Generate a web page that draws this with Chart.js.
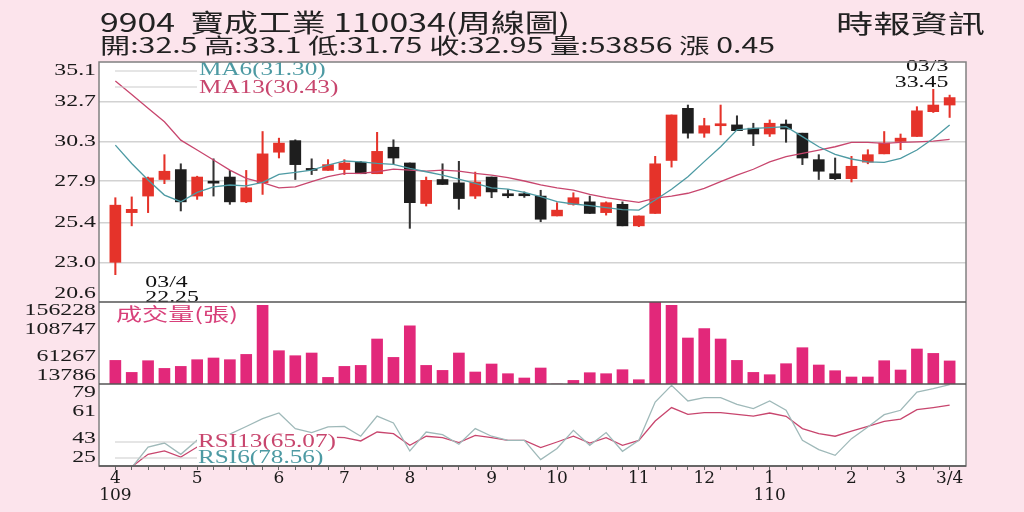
<!DOCTYPE html>
<html>
<head>
<meta charset="utf-8">
<title>9904 寶成工業 周線圖</title>
<script src="https://cdn.jsdelivr.net/npm/chart.js@4.4.1/dist/chart.umd.min.js"></script>
<style>
  html, body { margin: 0; padding: 0; background: #fce4ec; }
  #wrap { position: relative; width: 1024px; height: 512px; overflow: hidden; }
  canvas { position: absolute; left: 0; top: 0; }
  .hd { position: absolute; font-family: "Noto Sans CJK TC", sans-serif; color: #222; white-space: pre; transform-origin: 0 0; }
</style>
</head>
<body>
<div id="wrap">
  <canvas id="chart" width="1024" height="512"></canvas>
  <div id="title" class="hd" style="left:100px; top:9px; font-size:25px; line-height:25px;">9904  寶成工業 110034(周線圖)</div>
  <div id="quote" class="hd" style="left:100px; top:34px; font-size:21px; line-height:21px;">開:32.5 高:33.1 低:31.75 收:32.95 量:53856 漲 0.45</div>
  <div id="source" class="hd" style="left:836px; top:10px; font-size:25px; line-height:25px;">時報資訊</div>
</div>
<script>
// weekly candles, 109/03 week 4 .. 110/03 week 4
const xLabels = [['4', '109'], '', '', '', '', '5', '', '', '', '', '6', '', '', '', '7', '', '', '', '8', '', '', '', '',
  '9', '', '', '', '10', '', '', '', '', '11', '', '', '', '12', '', '', '', ['1', '110'], '', '', '', '',
  '2', '', '', '3', '', '', '3/4'];

const opens = [23.0, 26.0, 27.0, 28.0, 28.6, 27.0, 27.8, 28.15, 26.65, 27.8,
  29.65, 30.35, 28.56, 28.55, 28.6, 29.05, 28.35, 29.95, 29.0, 26.55,
  28.0, 27.8, 27.0, 28.15, 27.1, 27.08, 27.0, 25.8, 26.5, 26.65,
  26.0, 26.5, 25.2, 25.95, 29.15, 32.3, 30.8, 31.25, 31.3, 31.1,
  30.75, 31.35, 30.8, 29.2, 28.35, 28.05, 29.05, 29.55, 30.3, 30.6,
  32.1, 32.5];
const highs = [26.9, 26.95, 28.15, 29.5, 28.95, 28.2, 29.25, 28.55, 28.55, 30.9,
  30.5, 30.4, 29.25, 29.2, 29.2, 29.1, 30.85, 30.4, 29.0, 28.15,
  28.95, 29.1, 28.45, 28.15, 27.4, 27.25, 27.35, 26.6, 27.2, 27.0,
  26.65, 26.65, 25.8, 29.4, 31.9, 32.5, 31.7, 32.5, 31.85, 31.4,
  31.6, 31.6, 30.8, 29.5, 29.3, 29.4, 29.8, 30.9, 30.75, 32.4,
  33.45, 33.1];
const lows = [22.25, 25.2, 26.0, 27.75, 26.1, 26.8, 27.0, 26.5, 26.6, 27.1,
  29.3, 28.0, 28.3, 28.55, 28.3, 28.35, 28.35, 28.95, 25.05, 26.4,
  27.7, 26.2, 26.85, 26.9, 26.9, 26.92, 25.45, 25.8, 26.45, 25.95,
  25.85, 25.2, 25.15, 25.95, 28.75, 30.5, 30.55, 30.7, 30.95, 30.05,
  30.6, 30.25, 28.9, 28.0, 28.0, 27.85, 28.95, 29.55, 29.8, 30.6,
  32.05, 31.75];
const closes = [26.45, 26.2, 28.1, 28.5, 26.65, 28.15, 27.78, 26.65, 27.5, 29.55,
  30.2, 28.9, 28.55, 28.9, 29.0, 28.35, 29.7, 29.3, 26.6, 27.95,
  27.7, 26.85, 27.85, 27.25, 27.02, 27.02, 25.6, 26.15, 26.9, 25.95,
  26.6, 25.2, 25.8, 28.95, 31.9, 30.8, 31.25, 31.3, 30.95, 30.75,
  31.4, 31.05, 29.3, 28.5, 28.05, 28.8, 29.5, 30.2, 30.5, 32.15,
  32.5, 32.95];

const ma6 = [30.08, 28.97, 27.97, 27.06, 26.66, 27.22, 27.56, 27.67, 27.62, 27.83,
  28.31, 28.43, 28.57, 28.87, 29.12, 29.07, 28.97, 28.91, 28.67, 28.47,
  28.27, 28.03, 27.77, 27.5, 27.42, 27.22, 26.96, 26.66, 26.52, 26.42,
  26.3, 26.18, 26.15, 26.76, 27.41, 28.17, 29.08, 29.98, 31.0, 31.09,
  31.13, 31.19, 30.59, 29.98, 29.52, 29.24, 29.07, 29.03, 29.28, 29.78,
  30.48, 31.3];
const ma13 = [33.95, 33.14, 32.3, 31.49, 30.38, 29.78, 29.18, 28.57, 28.07, 27.81,
  27.5, 27.56, 27.87, 28.17, 28.37, 28.37, 28.47, 28.63, 28.57, 28.51,
  28.57, 28.51, 28.37, 28.27, 28.11, 27.91, 27.67, 27.5, 27.36, 27.1,
  26.9, 26.76, 26.62, 26.87, 27.0, 27.17, 27.47, 27.87, 28.27, 28.62,
  29.07, 29.38, 29.58, 29.78, 29.98, 30.24, 30.24, 30.18, 30.24, 30.28,
  30.32, 30.43];

const volumes = [54780, 33930, 54250, 40880, 44360, 56000, 58950, 56000, 65200, 150300,
  71630, 62940, 67630, 25250, 44360, 46090, 91950, 59990, 115050, 46090,
  37410, 67630, 34630, 48530, 31680, 24210, 41580, 13786, 20040, 33410,
  31680, 38620, 21250, 156228, 150300, 93690, 109840, 91950, 54780, 33930,
  29940, 49050, 76840, 46790, 36890, 25950, 25950, 54250, 38100, 74580,
  66940, 53856];

const rsi6 = [23.5, 24.0, 37.5, 40.1, 32.7, 42.0, 44.0, 46.0, 51.0, 56.2,
  59.9, 49.6, 47.0, 50.7, 51.1, 44.6, 57.9, 53.3, 34.9, 47.4,
  45.7, 39.3, 49.6, 44.6, 41.9, 41.9, 29.2, 36.5, 48.5, 38.6,
  47.0, 34.7, 41.9, 67.1, 78.1, 67.8, 70.0, 70.0, 65.6, 62.8,
  67.8, 61.7, 41.9, 35.8, 32.0, 43.0, 50.7, 58.8, 61.7, 73.7,
  76.0, 78.56];
const rsi13 = [24.0, 24.5, 32.7, 34.9, 30.9, 37.5, 39.5, 41.5, 43.0, 45.0,
  46.0, 45.0, 44.5, 44.1, 43.7, 41.5, 47.4, 46.3, 38.6, 44.6,
  43.7, 40.4, 45.2, 43.7, 41.9, 41.9, 37.1, 40.8, 44.6, 40.1,
  43.7, 38.6, 41.9, 54.6, 63.5, 59.0, 60.2, 60.2, 59.0, 57.9,
  59.9, 57.7, 49.6, 46.3, 44.6, 48.0, 51.1, 54.4, 55.9, 62.1,
  63.5, 65.07];

const priceTicks = [20.6, 23.0, 25.4, 27.9, 30.3, 32.7, 35.1];
const volTicks = [13786, 61267, 108747, 156228];
const rsiTicks = [25, 43, 61, 79];

const lowDate = '03/4';
const highDate = '03/3';

const RED = '#e5332a';
const BLACK = '#1e1e1e';
const TEAL = '#4d9aa3';
const ROSE = '#c8466e';
const SERIF = '"Liberation Serif", serif';

// one empty slot at each end, like the original
const pad = a => [null, ...a, null];
const labels = ['', ...xLabels, ''];

const bodies = opens.map((o, i) => [o, closes[i]]);
const wicks = lows.map((l, i) => [l, highs[i]]);
const candleColors = opens.map((o, i) => closes[i] >= o ? RED : BLACK);
const wickColors = opens.map((o, i) => closes[i] >= o ? RED : '#333');

function drawText(ctx, txt, x, y, font, color, align, sx) {
  ctx.save();
  ctx.font = font;
  ctx.fillStyle = color;
  ctx.textAlign = align;
  ctx.textBaseline = 'middle';
  ctx.translate(x, y);
  ctx.scale(sx, 1);
  ctx.fillText(txt, 0, 0);
  ctx.restore();
}

function textWidth(ctx, txt, font, sx) {
  ctx.save();
  ctx.font = font;
  const w = ctx.measureText(txt).width * sx;
  ctx.restore();
  return w;
}

function hline(ctx, x1, x2, y, color, w) {
  ctx.save();
  ctx.strokeStyle = color;
  ctx.lineWidth = w;
  ctx.beginPath();
  ctx.moveTo(x1, y);
  ctx.lineTo(x2, y);
  ctx.stroke();
  ctx.restore();
}

const panels = {
  id: 'panels',
  beforeDraw(chart) {
    const { ctx, chartArea: a } = chart;
    ctx.save();
    ctx.fillStyle = '#fff';
    ctx.fillRect(a.left, a.top, a.width, a.height);
    ctx.restore();
  },
  afterDraw(chart) {
    const { ctx, chartArea: a } = chart;
    const { x, yPrice, yVol, yRsi } = chart.scales;
    const legFont = '18px ' + SERIF;

    // legends
    hline(ctx, a.left + 16, a.left + 98, yPrice.top + 9, '#cccccc', 1.2);
    hline(ctx, a.left + 16, a.left + 98, yPrice.top + 25, '#cccccc', 1.2);
    drawText(ctx, 'MA6(' + ma6[ma6.length - 1].toFixed(2) + ')', a.left + 100, yPrice.top + 8, legFont, TEAL, 'left', 1.4);
    drawText(ctx, 'MA13(' + ma13[ma13.length - 1].toFixed(2) + ')', a.left + 100, yPrice.top + 26, legFont, ROSE, 'left', 1.4);

    drawText(ctx, '成交量(張)', a.left + 17, yVol.top + 12, '18px "Noto Sans CJK TC"', '#d8407a', 'left', 1.45);

    const r13 = 'RSI13(' + rsi13[rsi13.length - 1].toFixed(2) + ')';
    const r6 = 'RSI6(' + rsi6[rsi6.length - 1].toFixed(2) + ')';
    const rx = a.left + 99;
    ctx.save();
    ctx.fillStyle = '#fff';
    ctx.fillRect(rx - 1, yRsi.top + 50, textWidth(ctx, r13, legFont, 1.4) + 2, 32);
    ctx.restore();
    hline(ctx, a.left + 16, rx - 1, yRsi.top + 58, '#cccccc', 1.2);
    hline(ctx, a.left + 16, rx - 1, yRsi.top + 74, '#cccccc', 1.2);
    drawText(ctx, r13, rx, yRsi.top + 58, legFont, ROSE, 'left', 1.4);
    drawText(ctx, r6, rx, yRsi.top + 74, legFont, TEAL, 'left', 1.4);

    // low / high marks
    const lo = lows.indexOf(Math.min(...lows));
    const hi = highs.indexOf(Math.max(...highs));
    const lx = x.getPixelForValue(lo + 1) + 30;
    const ly = yPrice.getPixelForValue(lows[lo]);
    drawText(ctx, lowDate, lx, ly + 8, '17px ' + SERIF, '#111', 'left', 1.4);
    drawText(ctx, lows[lo].toFixed(2), lx, ly + 23, '17px ' + SERIF, '#111', 'left', 1.4);
    const hx = x.getPixelForValue(hi + 1) + 15;
    const hy = yPrice.getPixelForValue(highs[hi]);
    drawText(ctx, highDate, hx, hy - 23, '17px ' + SERIF, '#111', 'right', 1.4);
    drawText(ctx, highs[hi].toFixed(2), hx, hy - 7, '17px ' + SERIF, '#111', 'right', 1.4);

    // frame and panel dividers
    ctx.save();
    ctx.strokeStyle = '#808080';
    ctx.lineWidth = 1.5;
    ctx.strokeRect(a.left, a.top, a.width, a.height);
    ctx.restore();
    hline(ctx, a.left, a.right, yVol.top, '#555', 1.5);
    hline(ctx, a.left, a.right, yRsi.top, '#555', 1.5);
    hline(ctx, a.left, a.right, a.bottom, '#555', 1.5);

    // left tick labels, kept inside their panel
    [[yPrice, priceTicks, v => v.toFixed(1)], [yVol, volTicks, v => String(v)], [yRsi, rsiTicks, v => String(v)]]
      .forEach(([s, ticks, fmt]) => {
        ticks.forEach(v => {
          let py = s.getPixelForValue(v);
          py = Math.min(Math.max(py, s.top + 8.5), s.bottom - 8.5);
          drawText(ctx, fmt(v), a.left - 3, py, '17px ' + SERIF, '#1a1a1a', 'right', 1.4);
        });
      });
  }
};

const edge = c => c.tick && (c.tick.value === priceTicks[0] || c.tick.value === priceTicks[priceTicks.length - 1]);

new Chart(document.getElementById('chart'), {
  type: 'bar',
  data: {
    labels: labels,
    datasets: [
      { type: 'line', label: 'MA6', data: pad(ma6), yAxisID: 'yPrice', borderColor: TEAL, borderWidth: 1.3, pointRadius: 0, order: 0 },
      { type: 'line', label: 'MA13', data: pad(ma13), yAxisID: 'yPrice', borderColor: ROSE, borderWidth: 1.3, pointRadius: 0, order: 0 },
      { label: 'body', data: pad(bodies), yAxisID: 'yPrice', backgroundColor: pad(candleColors), barThickness: 11, minBarLength: 2, grouped: false, order: 1 },
      { label: 'wick', data: pad(wicks), yAxisID: 'yPrice', backgroundColor: pad(wickColors), barThickness: 1.4, grouped: false, order: 2 },
      { label: '成交量', data: pad(volumes), yAxisID: 'yVol', backgroundColor: '#e2287a', barThickness: 11, grouped: false, order: 3 },
      { type: 'line', label: 'RSI6', data: pad(rsi6), yAxisID: 'yRsi', borderColor: '#9fb9b9', borderWidth: 1.3, pointRadius: 0, order: 0 },
      { type: 'line', label: 'RSI13', data: pad(rsi13), yAxisID: 'yRsi', borderColor: ROSE, borderWidth: 1.3, pointRadius: 0, order: 0 }
    ]
  },
  options: {
    responsive: false,
    animation: false,
    layout: { padding: { left: 99, right: 58, top: 62, bottom: 0 } },
    plugins: { legend: { display: false }, tooltip: { enabled: false }, title: { display: false } },
    scales: {
      x: {
        type: 'category',
        offset: false,
        border: { display: false },
        grid: {
          offset: false, drawOnChartArea: false, drawTicks: true, tickLength: 4,
          color: c => (c.index === 0 || c.index === labels.length - 1) ? 'rgba(0,0,0,0)' : '#666'
        },
        ticks: {
          autoSkip: false, maxRotation: 0, minRotation: 0, padding: 1, color: '#1a1a1a',
          font: { family: '"DejaVu Serif", serif', size: 17, lineHeight: 0.95 }
        },
        afterFit: s => { s.height = 46; }
      },
      yPrice: {
        type: 'linear', position: 'left', stack: 'panels', stackWeight: 240, weight: 3,
        min: 20.6, max: 35.1,
        afterBuildTicks: s => { s.ticks = priceTicks.map(v => ({ value: v })); },
        grid: { color: c => edge(c) ? 'rgba(0,0,0,0)' : '#d2d2d2', lineWidth: 1.5, drawTicks: false },
        border: { display: false },
        ticks: { display: false },
        afterFit: s => { s.width = 0; }
      },
      yVol: {
        type: 'linear', position: 'left', stack: 'panels', stackWeight: 82, weight: 2,
        min: 13786, max: 156228,
        afterBuildTicks: s => { s.ticks = volTicks.map(v => ({ value: v })); },
        grid: { display: false },
        border: { display: false },
        ticks: { display: false },
        afterFit: s => { s.width = 0; }
      },
      yRsi: {
        type: 'linear', position: 'left', stack: 'panels', stackWeight: 82, weight: 1,
        min: 25, max: 79,
        afterBuildTicks: s => { s.ticks = rsiTicks.map(v => ({ value: v })); },
        grid: { display: false },
        border: { display: false },
        ticks: { display: false },
        afterFit: s => { s.width = 0; }
      }
    }
  },
  plugins: [panels]
});

// header text is squeezed / widened to the spans it has in the original
function fit(id, width) {
  const el = document.getElementById(id);
  const w = el.getBoundingClientRect().width;
  el.style.transform = 'scaleX(' + (width / w) + ')';
}
fit('title', 470);
fit('quote', 675);
fit('source', 149);
</script>
</body>
</html>
